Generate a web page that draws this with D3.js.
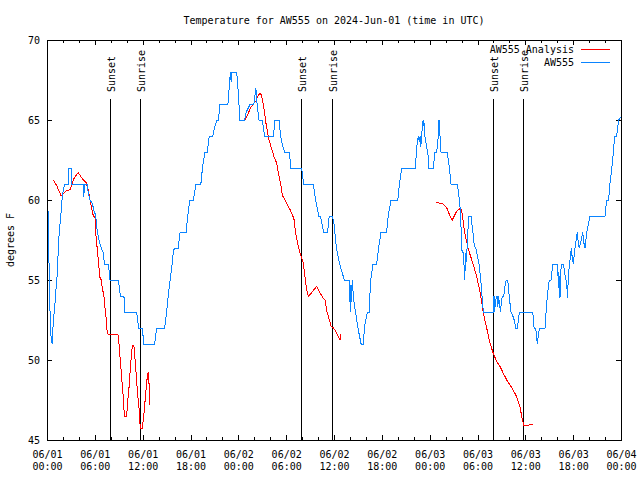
<!DOCTYPE html>
<html><head><meta charset="utf-8">
<script src="https://cdn.jsdelivr.net/npm/d3@7"></script>
<style>
body{margin:0;background:#fff}
svg{display:block}
text{font-family:"DejaVu Sans Mono",monospace;font-size:10px;fill:#000}
</style>
</head><body>
<svg id="chart" width="640" height="480"></svg>
<script>
// ---------- data ----------
const chartTitle = "Temperature for AW555 on 2024-Jun-01 (time in UTC)";
const yAxisLabel = "degrees F";
const startUtc = Date.UTC(2024, 5, 1, 0, 0);
const xMajorHours = [0, 6, 12, 18, 24, 30, 36, 42, 48, 54, 60, 66, 72];
const xMinorHours = d3.range(0, 73, 2);
const yTickValues = [45, 50, 55, 60, 65, 70];
const seriesNames = ["AW555 Analysis", "AW555"];
const sunLabels = ["Sunset", "Sunrise", "Sunset", "Sunrise", "Sunset", "Sunrise"];
const sunHours = [7.87, 11.7, 31.9, 35.79, 55.99, 59.75];

// AW555 observations: [hour since 06/01 00:00 UTC, deg F]
const aw555 = [[0.1,60],[0.2,57.5],[0.35,53.5],[0.46,51.8],[0.54,51.2],[0.66,51.0],[0.79,52.5],[0.97,53.3],[1.09,54.2],[1.29,55.4],[1.47,57.5],[1.63,58.5],[1.84,59.6],[1.92,60.3],[2.13,60.8],[2.22,61],[2.67,61],[2.76,62],[3.01,62],[3.1,61],[4.55,61],[4.62,60.2],[4.7,61],[5.06,61],[5.18,60.4],[5.39,60],[5.68,59.8],[5.9,59.3],[6.1,59.06],[6.31,58],[6.52,57.5],[6.81,57],[7.06,56.7],[7.2,56],[7.7,56],[7.9,55],[8.95,55],[9.2,54],[9.65,54],[9.75,53],[11.25,53],[11.5,52],[11.95,52],[12.15,51],[13.5,51],[13.75,52],[14.75,52],[15.0,53],[15.2,54],[15.45,55],[15.65,55.8],[15.85,56.8],[16.0,57],[16.45,57],[16.7,58],[17.45,58],[17.65,59],[17.9,60],[18.35,60],[18.7,61],[19.3,61],[19.5,62],[19.8,63],[20.1,63],[20.35,64],[20.8,64],[21.0,64.5],[21.3,65],[21.5,65],[21.7,66],[22.7,66],[22.85,67],[23.0,68],[23.1,67.4],[23.2,68],[23.8,68],[23.95,67],[24.2,65],[24.8,65],[25.0,65.5],[25.5,66],[25.95,66],[26.2,67],[26.35,66],[26.6,65],[27.0,65],[27.3,64],[28.4,64],[28.6,65],[29.1,65],[29.3,64],[29.5,63.5],[29.8,63],[30.4,63],[30.6,62],[31.95,62],[32.2,61],[33.4,61],[33.7,60],[33.9,59.5],[34.1,59],[34.3,59],[34.7,58],[35.2,58],[35.4,59],[35.8,59],[36.0,58.5],[36.3,57],[36.7,56],[37.0,55.5],[37.3,55],[37.9,55],[38.0,53.6],[38.05,54.7],[38.1,53],[38.15,54.7],[38.2,53.6],[38.3,55],[38.45,53.8],[38.7,53],[39.0,52],[39.2,51.5],[39.4,51],[39.65,51],[39.9,52.3],[40.2,53],[40.4,53],[40.6,55],[40.9,56],[41.35,56],[41.6,57],[41.9,58],[42.6,58],[42.8,59],[43.15,60],[44.0,60],[44.2,61],[44.5,62],[46.25,62],[46.3,62.8],[46.37,63.3],[46.5,63.75],[46.58,64],[46.7,63.6],[46.8,64],[46.88,63.3],[47.0,64],[47.1,64.8],[47.2,65],[47.3,64.6],[47.33,64.8],[47.4,64],[47.53,63.6],[47.6,63.4],[47.8,62.8],[47.9,62],[48.46,62],[48.67,63],[48.88,63],[49.0,63.6],[49.1,64],[49.17,65],[49.3,64],[49.42,63],[50.2,63],[50.47,62],[50.68,61],[51.47,61],[51.73,60],[51.9,59],[52.0,56.9],[52.2,56.7],[52.35,55.6],[52.4,55],[52.5,56.7],[52.6,56.1],[52.7,57.1],[52.77,57.9],[52.93,59],[53.18,59],[53.35,58.3],[53.5,57.7],[53.6,57.1],[53.8,57],[53.9,56.7],[54.2,56],[54.44,54.8],[54.53,54.2],[54.74,53],[55.95,53],[56.0,54],[56.07,53],[56.15,54],[56.25,53.3],[56.35,54],[56.45,54],[56.55,53.3],[56.65,54],[56.8,53.3],[56.9,53],[57.0,53.7],[57.15,54],[57.3,54],[57.45,54.6],[57.6,55],[57.8,55],[57.97,54],[58.2,53],[58.4,52.8],[58.6,52.5],[58.8,52],[59.0,52],[59.25,53],[60.93,53],[61.1,52],[61.3,52],[61.5,51],[61.76,52],[62.47,52],[62.6,53],[62.76,54],[63.0,55],[63.22,55],[63.44,56],[64.06,56],[64.14,54.5],[64.2,55.5],[64.35,53.9],[64.43,55.5],[64.56,56],[64.77,56],[65.02,55.2],[65.2,54.8],[65.27,53.9],[65.44,55.5],[65.6,56.2],[65.77,57],[65.9,56.3],[66.02,56],[66.23,57],[66.45,57.8],[66.52,58],[66.65,57.3],[66.77,57],[66.93,57.3],[67.2,58],[67.35,57.3],[67.49,57],[67.7,58],[67.99,58.7],[68.1,59],[70.0,59],[70.2,60],[70.45,60],[70.6,61],[70.85,62],[71.05,63],[71.2,64],[71.45,64],[71.7,65],[72.0,65.2]];

// AW555 Analysis, three separate runs
const analysisDay1 = [[0.79,61.25],[1.22,60.9],[1.76,60.27],[2.47,60.6],[2.89,60.63],[3.39,61.35],[3.72,61.6],[3.93,61.7],[4.55,61.25],[4.89,61.1],[5.18,60.6],[5.39,60],[5.6,59.5],[5.81,59.0],[6.02,58.9],[6.1,58.0],[6.31,56.9],[6.44,56.25],[6.61,55.2],[6.81,55.0],[6.94,54.5],[7.15,53.96],[7.27,53.3],[7.44,52.5],[7.56,51.67],[7.69,51.6],[8.9,51.6],[9.03,51.04],[9.16,50.2],[9.32,49.2],[9.45,48.33],[9.57,47.7],[9.66,46.9],[9.74,46.5],[10.0,46.5],[10.07,47.1],[10.29,48.3],[10.5,49.8],[10.7,50.9],[10.9,50.9],[11.12,49.6],[11.33,48.1],[11.54,47.0],[11.62,46.15],[11.75,45.73],[11.95,45.73],[12.17,46.67],[12.38,47.9],[12.58,48.96],[12.71,49.27],[12.8,48.5],[12.92,47.2]];
const analysisDay2 = [[24.84,65.0],[25.25,65.4],[25.46,65.7],[25.88,66.0],[26.22,66.2],[26.5,66.56],[26.8,66.67],[27.06,66.2],[27.26,65.6],[27.43,64.9],[27.64,64.3],[27.85,63.75],[28.18,63.2],[28.48,62.7],[28.81,62.3],[29.02,61.67],[29.35,60.9],[29.52,60.3],[29.86,60.0],[30.15,59.7],[30.48,59.4],[30.77,59.1],[30.98,58.8],[31.2,57.9],[31.52,57.1],[31.82,56.56],[32.15,56.04],[32.36,55.2],[32.57,54.4],[32.78,53.96],[33.83,54.6],[34.25,54.2],[34.66,53.85],[34.87,53.75],[35.08,53.1],[35.42,52.5],[35.63,52.1],[35.92,52.0],[36.21,51.8],[36.54,51.46],[36.75,51.25],[36.88,51.6]];
const analysisDay3 = [[48.8,59.875],[49.3,59.8],[49.72,59.75],[50.15,59.5],[50.34,59.27],[50.55,59.0],[50.84,58.75],[51.09,59.0],[51.39,59.3],[51.59,59.4],[51.9,59.48],[52.02,59.3],[52.19,58.7],[52.35,58.1],[52.77,57.08],[53.06,56.6],[53.48,55.94],[53.9,55.2],[54.32,54.27],[54.53,53.6],[54.74,52.9],[55.16,51.98],[55.57,51.04],[55.99,50.4],[56.41,49.9],[56.82,49.6],[57.24,49.17],[57.67,48.75],[58.08,48.44],[58.49,48.1],[58.92,47.7],[59.33,47.08],[59.55,46.46],[59.75,46.04],[59.84,45.9],[60.38,45.9],[60.59,46.0],[61.0,46.0]];

// ---------- drawing ----------
const colors = {analysis: "#ff0000", obs: "#0a84ff"};
const W = 640, H = 480;
const plot = {left: 47, right: 621, top: 40, bottom: 440};
const svg = d3.select("#chart");
const hourToDate = h => new Date(startUtc + h * 3600e3);

const x = d3.scaleUtc().domain([hourToDate(0), hourToDate(72)]).range([plot.left, plot.right]);
const y = d3.scaleLinear().domain([45, 70]).range([plot.bottom, plot.top]);

svg.append("rect").attr("width", W).attr("height", H).attr("fill", "#fff");

function styleAxis(g) {
  g.select(".domain").remove();
  g.attr("font-family", null).attr("font-size", null);
  g.selectAll("line").attr("stroke", "#000").attr("shape-rendering", "crispEdges");
}

// minor x ticks bottom/top
svg.append("g").attr("transform", `translate(0,${plot.bottom})`)
  .call(d3.axisBottom(x).tickValues(xMinorHours.map(hourToDate)).tickSizeInner(-3).tickSizeOuter(0).tickFormat(() => ""))
  .call(styleAxis);
svg.append("g").attr("transform", `translate(0,${plot.top})`)
  .call(d3.axisTop(x).tickValues(xMinorHours.map(hourToDate)).tickSizeInner(-3).tickSizeOuter(0).tickFormat(() => ""))
  .call(styleAxis);

// major x ticks bottom with two-line labels
const fmtDay = d3.utcFormat("%m/%d"), fmtTime = d3.utcFormat("%H:%M");
const xb = svg.append("g").attr("transform", `translate(0,${plot.bottom})`)
  .call(d3.axisBottom(x).tickValues(xMajorHours.map(hourToDate)).tickSizeInner(-5).tickSizeOuter(0).tickFormat(() => ""))
  .call(styleAxis);
xb.selectAll(".tick text").remove();
xb.selectAll(".tick").each(function(d) {
  const t = d3.select(this).append("text").attr("text-anchor", "middle").attr("y", 18);
  t.append("tspan").attr("x", 0).text(fmtDay(d));
  t.append("tspan").attr("x", 0).attr("dy", 12).text(fmtTime(d));
});
svg.append("g").attr("transform", `translate(0,${plot.top})`)
  .call(d3.axisTop(x).tickValues(xMajorHours.map(hourToDate)).tickSizeInner(-5).tickSizeOuter(0).tickFormat(() => ""))
  .call(styleAxis);

// y ticks
const yl = svg.append("g").attr("transform", `translate(${plot.left},0)`)
  .call(d3.axisLeft(y).tickValues(yTickValues).tickSizeInner(-5).tickSizeOuter(0).tickPadding(7).tickFormat(d3.format("d")))
  .call(styleAxis);
yl.selectAll(".tick text").attr("dy", "0.35em").attr("fill", "#000");
svg.append("g").attr("transform", `translate(${plot.right},0)`)
  .call(d3.axisRight(y).tickValues(yTickValues).tickSizeInner(-5).tickSizeOuter(0).tickFormat(() => ""))
  .call(styleAxis);

// sunset / sunrise markers
const sunG = svg.append("g");
sunHours.forEach((h, i) => {
  const sx = Math.round(x(hourToDate(h))) + 0.5;
  sunG.append("line").attr("x1", sx).attr("x2", sx).attr("y1", 99).attr("y2", plot.bottom)
    .attr("stroke", "#000").attr("stroke-width", 1).attr("shape-rendering", "crispEdges");
  sunG.append("text").attr("transform", `translate(${sx},92) rotate(-90)`)
    .attr("dy", "0.45em").text(sunLabels[i]);
});

// series
const line = d3.line().x(d => x(hourToDate(d[0]))).y(d => y(d[1]));
[analysisDay1, analysisDay2, analysisDay3].forEach(seg => {
  svg.append("path").datum(seg).attr("d", line).attr("fill", "none")
    .attr("stroke", colors.analysis).attr("stroke-width", 1).attr("shape-rendering", "crispEdges");
});
svg.append("path").datum(aw555).attr("d", line).attr("fill", "none")
  .attr("stroke", colors.obs).attr("stroke-width", 1).attr("shape-rendering", "crispEdges");

// frame
svg.append("rect").attr("x", plot.left + 0.5).attr("y", plot.top + 0.5)
  .attr("width", plot.right - plot.left).attr("height", plot.bottom - plot.top)
  .attr("fill", "none").attr("stroke", "#000").attr("stroke-width", 1).attr("shape-rendering", "crispEdges");

// title & y label
svg.append("text").attr("x", (plot.left + plot.right) / 2).attr("y", 24)
  .attr("text-anchor", "middle").text(chartTitle);
svg.append("text").attr("transform", "translate(14,240) rotate(-90)")
  .attr("text-anchor", "middle").text(yAxisLabel);

// legend
const legendColors = [colors.analysis, colors.obs];
seriesNames.forEach((name, i) => {
  const ly = 49 + i * 13;
  svg.append("text").attr("x", 574).attr("y", ly).attr("dy", "0.35em")
    .attr("text-anchor", "end").text(name);
  svg.append("line").attr("x1", 581).attr("x2", 610).attr("y1", ly + 0.5).attr("y2", ly + 0.5)
    .attr("stroke", legendColors[i]).attr("stroke-width", 1).attr("shape-rendering", "crispEdges");
});
</script>
</body></html>
